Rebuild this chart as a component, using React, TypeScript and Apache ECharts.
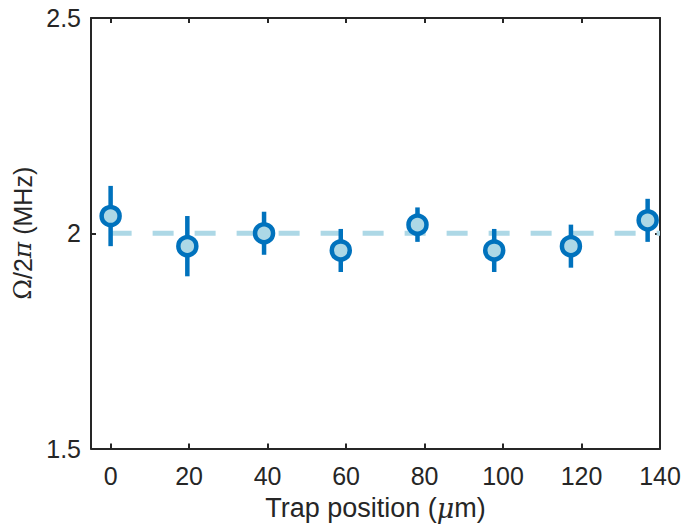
import React, { useEffect, useRef } from "react";
import * as echarts from "echarts";

// Measured Rabi frequency at each trap site
const trapPositions = [0, 19.55, 39.1, 58.65, 78.2, 97.75, 117.3, 136.85];
const rabiFreq = [2.04, 1.97, 2.0, 1.96, 2.02, 1.96, 1.97, 2.03];
const rabiErr = [0.07, 0.07, 0.05, 0.05, 0.04, 0.05, 0.05, 0.05];

// Target frequency (dashed reference line)
const targetFreq = 2;
const referenceSpan = [0, 140];

// Axis ticks
const xTicks = [0, 20, 40, 60, 80, 100, 120, 140];

const AXIS_COLOR = "#262626";
const DARK_BLUE = "#0072BD";
const LIGHT_BLUE = "#ADD8E6";
const FONT = "'Liberation Sans', Arial, Helvetica, sans-serif";
const TEX_FONT = "'DejaVu Serif', 'Liberation Serif', serif";

export default function App() {
  const ref = useRef<HTMLDivElement>(null);

  useEffect(() => {
    document.body.style.margin = "0";
    if (!ref.current) return;
    const chart = echarts.init(ref.current, undefined, { renderer: "svg" });

    const points = trapPositions.map((x, i) => [x, rabiFreq[i]]);
    const bars = trapPositions.map((x, i) => [x, rabiFreq[i] - rabiErr[i], rabiFreq[i] + rabiErr[i]]);
    const refLine = referenceSpan.map((x) => [x, targetFreq]);

    const axisLine = { show: true, onZero: false, lineStyle: { color: AXIS_COLOR, width: 2 } };
    const tick = { show: true, inside: true, length: 5, lineStyle: { color: AXIS_COLOR, width: 2 } };

    chart.setOption({
      animation: false,
      backgroundColor: "#ffffff",
      grid: { left: 91, top: 18, right: 24, bottom: 78.5, containLabel: false },
      xAxis: [
        {
          type: "value",
          min: -5,
          max: 140,
          position: "bottom",
          axisLine,
          axisTick: { ...tick, customValues: xTicks },
          axisLabel: {
            customValues: xTicks,
            color: AXIS_COLOR,
            fontSize: 25,
            fontFamily: FONT,
            margin: 15,
          },
          splitLine: { show: false },
          name: "Trap position ({mu|μ}m)",
          nameLocation: "middle",
          nameGap: 46,
          nameTextStyle: {
            color: AXIS_COLOR,
            fontSize: 27,
            fontFamily: FONT,
            rich: {
              mu: { fontSize: 27, fontFamily: TEX_FONT, fontStyle: "italic", color: AXIS_COLOR },
            },
          },
        },
        {
          type: "value",
          min: -5,
          max: 140,
          position: "top",
          axisLine,
          axisTick: { ...tick, customValues: xTicks },
          axisLabel: { show: false },
          splitLine: { show: false },
        },
      ],
      yAxis: [
        {
          type: "value",
          min: 1.5,
          max: 2.5,
          interval: 0.5,
          position: "left",
          axisLine,
          axisTick: tick,
          axisLabel: {
            color: AXIS_COLOR,
            fontSize: 25,
            fontFamily: FONT,
            margin: 10,
          },
          splitLine: { show: false },
          name: "{om|Ω}/2{pi|π} (MHz)",
          nameLocation: "middle",
          nameGap: 53,
          nameTextStyle: {
            color: AXIS_COLOR,
            fontSize: 25,
            fontFamily: FONT,
            rich: {
              om: { fontSize: 25, fontFamily: TEX_FONT, color: AXIS_COLOR },
              pi: { fontSize: 25, fontFamily: TEX_FONT, fontStyle: "italic", color: AXIS_COLOR },
            },
          },
        },
        {
          type: "value",
          min: 1.5,
          max: 2.5,
          interval: 0.5,
          position: "right",
          axisLine,
          axisTick: tick,
          axisLabel: { show: false },
          splitLine: { show: false },
        },
      ],
      series: [
        {
          type: "line",
          data: refLine,
          symbol: "none",
          silent: true,
          lineStyle: { color: LIGHT_BLUE, width: 5, type: [21, 21] },
          z: 1,
        },
        {
          type: "custom",
          data: bars,
          renderItem: (_params: any, api: any) => {
            const top = api.coord([api.value(0), api.value(2)]);
            const bottom = api.coord([api.value(0), api.value(1)]);
            return {
              type: "line",
              shape: { x1: top[0], y1: top[1], x2: bottom[0], y2: bottom[1] },
              style: { stroke: DARK_BLUE, lineWidth: 4.5 },
            };
          },
          z: 2,
        },
        {
          type: "scatter",
          data: points,
          symbol: "circle",
          symbolSize: 18,
          itemStyle: { color: LIGHT_BLUE, borderColor: DARK_BLUE, borderWidth: 4.5, opacity: 1 },
          z: 3,
        },
      ],
    });

    return () => chart.dispose();
  }, []);

  return <div ref={ref} style={{ width: 684, height: 527 }} />;
}
